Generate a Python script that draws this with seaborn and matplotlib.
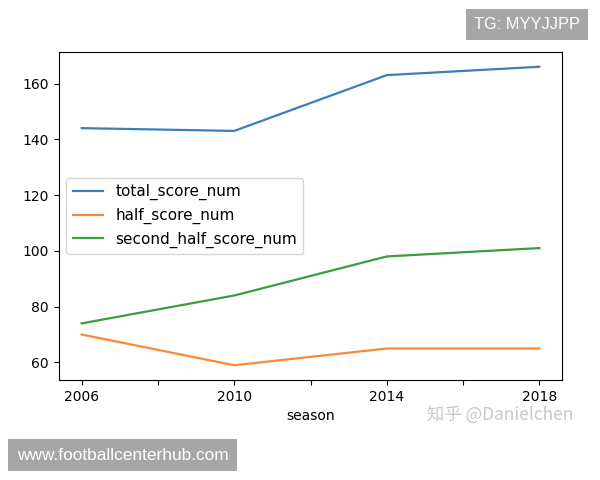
import pandas as pd
import matplotlib
matplotlib.use('Agg')
import matplotlib.pyplot as plt
import seaborn as sns

season = [2006, 2010, 2014, 2018]
total_score_num = [144, 143, 163, 166]
half_score_num = [70, 59, 65, 65]
second_half_score_num = [74, 84, 98, 101]

df = pd.DataFrame({
    'season': season,
    'total_score_num': total_score_num,
    'half_score_num': half_score_num,
    'second_half_score_num': second_half_score_num,
})
long_df = df.melt(id_vars='season', var_name='kind', value_name='num')

plt.rcParams['font.family'] = ['DejaVu Sans', 'Noto Sans CJK SC']

fig = plt.figure(figsize=(6, 4.8), dpi=100)
ax = fig.add_axes([0.098, 0.208, 0.839, 0.684])
sns.lineplot(data=long_df, x='season', y='num', hue='kind',
             palette=['#3a7fb8', '#fa8a32', '#3a9e3a'], linewidth=1.6, ax=ax)

ax.set_xticks([2006, 2008, 2010, 2012, 2014, 2016, 2018])
ax.set_xticklabels(['2006', '', '2010', '', '2014', '', '2018'])
ax.set_yticks([60, 80, 100, 120, 140, 160])
ax.set_xlabel('season')
ax.set_ylabel('')
handles, labels = ax.get_legend_handles_labels()
ax.legend(handles, labels, loc='center left', title=None, fontsize=11)

# overlays seen on the picture
fig.text(0.79, 0.949, 'TG: MYYJJPP', color='white', fontsize=11.8,
         family=['Liberation Sans', 'DejaVu Sans'], va='center', ha='left',
         bbox=dict(boxstyle='square,pad=0.5', fc='#a6a6a6', ec='none'))
fig.text(0.028, 0.052, 'www.footballcenterhub.com', color='white', fontsize=12.4,
         family=['Liberation Sans', 'DejaVu Sans'], va='center', ha='left',
         bbox=dict(boxstyle='square,pad=0.5', fc='#a6a6a6', ec='none'))
fig.text(0.712, 0.135, '知乎 @Danielchen', color='#c8c8c8', fontsize=12.5,
         family=['Noto Sans CJK SC', 'DejaVu Sans'], va='center', ha='left')

fig.savefig('out.png', dpi=100)
